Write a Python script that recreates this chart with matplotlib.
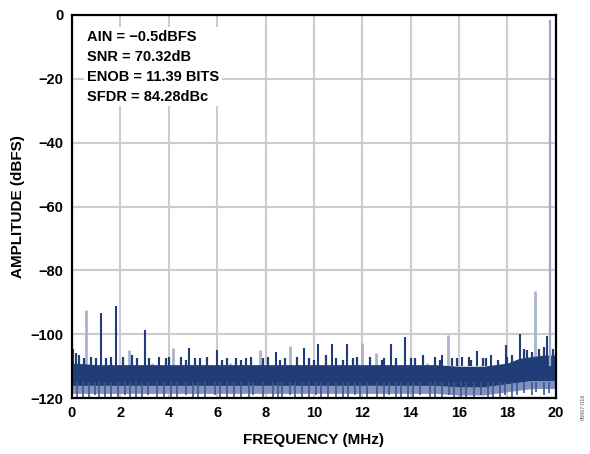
import matplotlib.pyplot as plt

# noise floor envelope, read every 1 MHz
env_freq = [0, 1, 2, 3, 4, 5, 6, 7, 8, 9, 10, 11, 12, 13, 14, 15, 16, 17, 17.5, 18, 18.5, 19, 19.5, 20]
core_top = [-109, -109.5, -109.5, -109.5, -109.5, -109.5, -109.5, -109.5, -109.5, -109.5, -109.5,
            -109.5, -109.5, -109.5, -109.5, -109.5, -110, -110, -109.5, -109, -107.5, -107, -106.5, -106.5]
core_bot = [-116, -116, -116, -116, -116, -116, -116, -116, -116, -116, -116, -116, -116, -116,
            -116, -116, -116.5, -116.5, -116, -115.5, -115, -114.5, -114.5, -114.5]
fringe_bot = [-118.5, -118.5, -118.5, -118.5, -118.5, -118.5, -118.5, -118.5, -118.5, -118.5,
              -118.5, -118.5, -118.5, -118.5, -118.5, -118.5, -119, -119, -118.5, -118, -117.5,
              -117, -117, -117]

# spurs: frequency (MHz) and peak (dBFS)
dark_spur_f = [0.04, 1.21, 1.83, 3.0, 3.58, 4.82, 5.98, 7.19, 8.42, 9.59, 10.18, 10.76, 11.35,
               13.17, 13.76, 15.28, 16.14, 16.76, 17.34, 17.93, 18.51, 19.64]
dark_spur_db = [-104.7, -93.3, -91.1, -98.5, -107, -104.3, -104.8, -107.4, -105.5, -104.2,
                -102.9, -102.9, -103, -103.1, -100.8, -106.6, -107, -105.2, -106.6, -103.2,
                -100, -100.6]
light_spur_f = [0.59, 2.36, 3.3, 4.19, 6.53, 7.77, 9.0, 11.97, 12.55, 14.68, 15.55, 19.14]
light_spur_db = [-92.5, -105, -109, -104.4, -109, -105, -103.6, -102.6, -106, -109, -100.1, -86.4]

fund_f = 19.75
fund_db = -1.5

# small spikes on top of the floor
grass_f = [0.15, 0.3, 0.5, 0.8, 1.0, 1.4, 1.6, 2.1, 2.5, 2.7, 3.2, 3.9, 4.0, 4.5, 4.7, 5.1, 5.3,
           5.6, 6.2, 6.4, 6.8, 7.0, 7.4, 7.9, 8.1, 8.6, 8.8, 9.3, 9.8, 10.0, 10.5, 10.9, 11.2, 11.6,
           11.8, 12.3, 12.8, 12.9, 13.4, 14.0, 14.2, 14.5, 15.0, 15.2, 15.7, 15.9, 16.4, 16.5, 17.0,
           17.1, 17.6, 18.0, 18.2, 18.7, 18.8, 19.0, 19.3, 19.5, 19.9]
grass_db = [-106, -106.5, -107.5, -107, -107.5, -107.5, -107, -107, -106.5, -107.5, -107.5,
            -107.5, -107, -107, -108, -107.5, -107.5, -107, -108, -107.5, -107.5, -108, -107,
            -107.5, -107, -108, -107.5, -107, -107.5, -108, -106.5, -107.5, -108, -107.5, -107,
            -107, -108, -107.5, -107.5, -107.5, -107.5, -106.5, -107, -108, -107.5, -107.5, -107,
            -108, -107.5, -107.5, -108, -107, -106.5, -104.5, -105, -105.5, -104.5, -104, -104.5]
# dips below the floor
dip_f = [0.2, 0.45, 0.7, 0.95, 1.1, 1.35, 1.6, 1.9, 2.2, 2.4, 2.65, 2.9, 3.15, 3.5, 3.8, 4.1,
         4.35, 4.7, 5.0, 5.2, 5.5, 5.9, 6.1, 6.4, 6.7, 7.0, 7.3, 7.5, 7.9, 8.3, 8.5, 8.7, 9.0, 9.2,
         9.5, 9.8, 10.1, 10.3, 10.6, 10.9, 11.2, 11.4, 11.7, 11.9, 12.2, 12.6, 12.9, 13.1, 13.4,
         13.6, 13.9, 14.1, 14.4, 14.8, 15.0, 15.3, 15.6, 15.8, 16.1, 16.3, 16.6, 16.9, 17.2, 17.4,
         17.7, 17.9, 18.2, 18.4, 18.7, 19.0, 19.2, 19.5, 19.7]
dip_db = [-120, -119.5, -120, -119, -120, -119.5, -120, -119.5, -119, -120, -119.5, -120, -119,
          -120, -119.5, -120, -119.5, -119, -120, -119.5, -120, -119, -120, -119.5, -120, -119.5,
          -120, -119, -120, -119.5, -120, -119.5, -119, -120, -119.5, -120, -119, -120, -119.5,
          -120, -119.5, -120, -119, -120, -119.5, -120, -119.5, -119, -120, -119.5, -120, -119.5,
          -119, -120, -119.5, -120, -119, -120, -119.5, -120, -119.5, -119, -120, -119.5, -120,
          -119, -119.5, -119, -118.5, -119, -118, -119, -118.5]

navy = '#213d78'
light = '#aab3cb'

fig = plt.figure(figsize=(5.9, 4.54), dpi=100)
ax = fig.add_axes([0.122, 0.123, 0.820, 0.844])

ax.fill_between(env_freq, fringe_bot, core_bot, color='#8292bb', lw=0, zorder=2)
ax.fill_between(env_freq, core_bot, core_top, color=navy, lw=0, zorder=3)

ax.vlines(dip_f, dip_db, [-115] * len(dip_f), color='#3f5690', lw=1.2, zorder=3)
ax.vlines(grass_f, [-110] * len(grass_f), grass_db, color=navy, lw=1.6, zorder=3)
ax.vlines(light_spur_f, [-110] * len(light_spur_f), light_spur_db, color=light, lw=2.0, zorder=2.5)
ax.vlines(dark_spur_f, [-110] * len(dark_spur_f), dark_spur_db, color=navy, lw=1.5, zorder=4)
ax.vlines([fund_f], [-110], [fund_db], color='#9ba7cb', lw=1.6, zorder=4)

ax.set_xlim(0, 20)
ax.set_ylim(-120, 0)
ax.set_xticks(range(0, 21, 2))
ax.set_yticks(range(-120, 1, 20))
ax.set_yticklabels(['\u2212120', '\u2212100', '\u221280', '\u221260', '\u221240', '\u221220', '0'])
ax.grid(True, color='#cccccc', lw=1.5, zorder=0)
ax.set_axisbelow(True)
ax.tick_params(length=0, labelsize=10.5, pad=6)
for lab in ax.get_xticklabels() + ax.get_yticklabels():
    lab.set_fontweight('bold')
    lab.set_family('Liberation Sans')
for s in ax.spines.values():
    s.set_linewidth(1.6)
    s.set_zorder(5)

ax.set_xlabel('FREQUENCY (MHz)', fontsize=11, fontweight='bold', family='Liberation Sans', labelpad=9)
ax.set_ylabel('AMPLITUDE (dBFS)', fontsize=11, fontweight='bold', family='Liberation Sans', labelpad=4)

ax.text(0.031, 0.962,
        'AIN = \u22120.5dBFS\nSNR = 70.32dB\nENOB = 11.39 BITS\nSFDR = 84.28dBc',
        transform=ax.transAxes, va='top', ha='left', fontsize=10.5, fontweight='bold',
        family='Liberation Sans', linespacing=1.55,
        bbox=dict(facecolor='white', edgecolor='none', pad=2), zorder=6)

fig.text(0.988, 0.105, '05967-016', rotation=90, fontsize=4, color='#555555',
         ha='center', va='center', family='Liberation Sans')

fig.savefig('out.png', dpi=100)
